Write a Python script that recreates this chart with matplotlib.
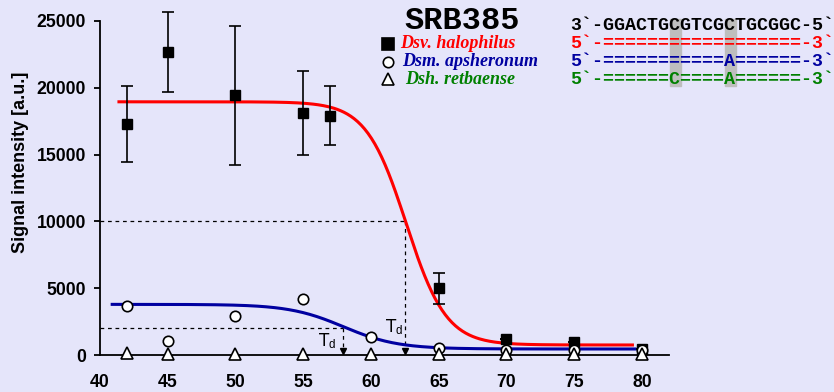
import numpy as np
import matplotlib
matplotlib.use('Agg')
from matplotlib import pyplot as plt
from matplotlib.patches import Rectangle

# measured points
temp_sq = [42, 45, 50, 55, 57, 65, 70, 75, 80]
halophilus = [17270, 22700, 19430, 18090, 17890, 4990, 1170, 1000, 430]
halophilus_err = [2850, 2980, 5180, 3150, 2210, 1180, 0, 0, 0]

temp_open = [42, 45, 50, 55, 60, 65, 70, 75, 80]
apsheronum = [3670, 1050, 2940, 4170, 1370, 500, 400, 400, 380]
retbaense = [120, 80, 80, 80, 80, 80, 80, 80, 80]

# fitted melting curves: top, bottom, Td, slope
red_fit = (18950, 750, 62.6, 1.48)
blue_fit = (3790, 450, 57.96, 2.0)
red_range = (41.4, 79.3)
blue_range = (40.9, 79.5)

# Td guides: (threshold, Td)
red_td = (10000, 62.5)
blue_td = (2000, 57.9)

xticks = [40, 45, 50, 55, 60, 65, 70, 75, 80]
yticks = [0, 5000, 10000, 15000, 20000, 25000]

probe = 'SRB385'
seq_rows = ["3`-GGACTGCGTCGCTGCGGC-5`",
            "5`-==================-3`",
            "5`-===========A======-3`",
            "5`-======C====A======-3`"]
seq_colors = ['black', '#FF0000', '#0000A0', '#008000']
species = ['Dsv. halophilus', 'Dsm. apsheronum', 'Dsh. retbaense']
mismatch_cols = [9, 14]

bg = '#E5E5FA'
W, H = 834, 392


def boltzmann(x, top, bottom, td, dx):
	return bottom + (top - bottom) / (1 + np.exp((x - td) / dx))


def fx(px):
	return px / W


def fy(py):
	return 1 - py / H


def main():
	plt.rcParams['mathtext.fontset'] = 'custom'
	plt.rcParams['mathtext.rm'] = 'Liberation Sans'
	plt.rcParams['mathtext.it'] = 'Liberation Sans'

	fig = plt.figure(figsize=(W / 100, H / 100), dpi=100, facecolor=bg)
	ax = fig.add_axes([fx(100), fy(355), fx(569), 347.4 / H])
	ax.set_facecolor(bg)

	ax.set_xlim(40, 82)
	ax.set_ylim(0, 26000)
	for s in ['top', 'right']:
		ax.spines[s].set_visible(False)
	ax.spines['left'].set_bounds(0, 25000)
	ax.spines['left'].set_linewidth(1.3)
	ax.spines['bottom'].set_linewidth(1.3)

	ax.set_xticks(xticks)
	ax.set_yticks(yticks)
	ax.tick_params(axis='x', length=0, pad=14)
	ax.tick_params(axis='y', length=4, width=1.3, pad=6)
	for lab in ax.get_xticklabels() + ax.get_yticklabels():
		lab.set_fontfamily('Liberation Sans')
		lab.set_fontweight('bold')
		lab.set_fontsize(12.7)
	ax.set_ylabel('Signal intensity [a.u.]', fontfamily='Liberation Sans',
		fontweight='bold', fontsize=13, va='center')
	ax.yaxis.set_label_coords(-0.14, 0.556)

	# dashed Td guides
	for (thr, td) in [red_td, blue_td]:
		ax.plot([40, td], [thr, thr], ls=(0, (3, 3)), color='black', lw=0.9, zorder=1)
		ax.plot([td, td], [thr, 600], ls=(0, (3, 3)), color='black', lw=0.9, zorder=1)
		ax.plot([td], [330], marker='v', color='black', ms=5, zorder=1)
	ax.annotate('T$_\\mathrm{d}$', xy=(red_td[1], 0), xytext=(-8, 20),
		textcoords='offset points', ha='center', va='center', fontsize=12)
	ax.annotate('T$_\\mathrm{d}$', xy=(blue_td[1], 0), xytext=(-11, 10),
		textcoords='offset points', ha='center', va='center', fontsize=12)

	# fitted curves
	xb = np.linspace(blue_range[0], blue_range[1], 300)
	ax.plot(xb, boltzmann(xb, *blue_fit), color='#0000A0', lw=2.2, zorder=2)
	xr = np.linspace(red_range[0], red_range[1], 300)
	ax.plot(xr, boltzmann(xr, *red_fit), color='#FF0000', lw=2.2, zorder=3)

	# data
	ax.errorbar(temp_sq, halophilus, yerr=halophilus_err, fmt='s', color='black',
		ms=7.5, capsize=4.5, elinewidth=1.2, capthick=1.2, zorder=4, clip_on=False)
	ax.plot(temp_open, apsheronum, 'o', mfc='white', mec='black', mew=1.2, ms=7.5,
		zorder=5, clip_on=False)
	ax.plot(temp_open, retbaense, '^', mfc='white', mec='black', mew=1.2, ms=8.5,
		zorder=6, clip_on=False)

	# title and legend
	fig.text(fx(462), fy(21), probe, fontfamily='Liberation Mono', fontweight='bold',
		fontsize=23, ha='center', va='center')
	mk = ['s', 'o', '^']
	for i in range(3):
		y = 44 + 17.5 * i
		fig.lines.append(plt.Line2D([fx(388)], [fy(y)], marker=mk[i],
			mfc='black' if i == 0 else 'white', mec='black', mew=1.2, ms=8 if i != 1 else 7.5,
			transform=fig.transFigure))
		fig.text(fx(400 + 2.5 * i), fy(y), species[i], fontfamily='Liberation Serif',
			fontweight='bold', fontstyle='italic', fontsize=13, color=seq_colors[i + 1],
			ha='left', va='center')

	# alignment
	pitch = 11.0
	x0 = 570.5
	for c in mismatch_cols:
		fig.patches.append(Rectangle((fx(x0 + c * pitch), fy(86)), fx(pitch), (86 - 19) / H,
			transform=fig.transFigure, color='#BEBEBE', zorder=0))
	for i in range(len(seq_rows)):
		fig.text(fx(x0), fy(25 + 18 * i), seq_rows[i], fontfamily='Liberation Mono',
			fontweight='bold', fontsize=13.2, color=seq_colors[i], ha='left', va='center')

	fig.savefig('out.png', dpi=100, facecolor=bg)


if __name__ == "__main__":
	main()
